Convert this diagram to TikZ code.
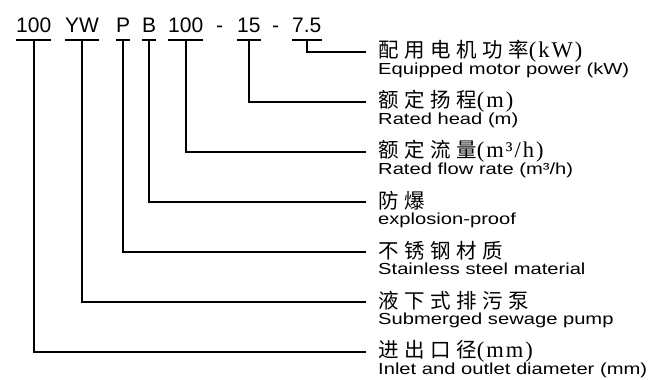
\documentclass[tikz,border=0pt]{standalone}
\usepackage{fontspec}
\setmainfont{Liberation Sans}
\newfontfamily\cjk[LetterSpace=27]{Noto Sans CJK SC}
\newfontfamily\zhunit[LetterSpace=9]{Liberation Serif}
\newfontfamily\enwide[FakeStretch=1.26]{Liberation Sans}
\usetikzlibrary{positioning}

\begin{document}
\begin{tikzpicture}[x=1pt,y=-1pt,
    code/.style={inner sep=0pt,anchor=base west,font=\fontsize{21}{21}\selectfont},
    zh/.style={inner sep=0pt,anchor=west,font=\cjk\fontsize{20.5}{21}\selectfont},
    en/.style={inner sep=0pt,anchor=base west,font=\enwide\fontsize{16}{16}\selectfont},
    lead/.style={line width=1.8pt}]
            \useasboundingbox (0,0) rectangle (653,380);
            % model code
            \node[code] (c1) at (16,32) {100};
            \node[code] (c2) at (65,32) {YW};
            \node[code] (c3) at (116,32) {P};
            \node[code] (c4) at (142,32) {B};
            \node[code] (c5) at (168,32) {100};
            \node[code] (d1) at (216,32) {-};
            \node[code] (c6) at (237,32) {15};
            \node[code] (d2) at (272,32) {-};
            \node[code] (c7) at (292,32) {7.5};
            \draw[lead] ([yshift=-8pt]c1.base west)--([yshift=-8pt]c1.base east);
            \draw[lead] ([yshift=-8pt]c2.base west)--([yshift=-8pt]c2.base east);
            \draw[lead] ([yshift=-8pt]c3.base west)--([yshift=-8pt]c3.base east);
            \draw[lead] ([yshift=-8pt]c4.base west)--([yshift=-8pt]c4.base east);
            \draw[lead] ([yshift=-8pt]c5.base west)--([yshift=-8pt]c5.base east);
            \draw[lead] ([yshift=-8pt]c6.base west)--([yshift=-8pt]c6.base east);
            \draw[lead] ([yshift=-8pt]c7.base west)--([yshift=-8pt]c7.base east);
            % labels
            \node[zh] (z7) at (378,51) {配用电机功率{\zhunit\fontsize{22.5}{22}\selectfont(kW)}};
            \node[en] (e7) at (378,74) {Equipped motor power (kW)};
            \node[zh] (z6) at (378,101) {额定扬程{\zhunit\fontsize{22.5}{22}\selectfont(m)}};
            \node[en] (e6) at (378,124) {Rated head (m)};
            \node[zh] (z5) at (378,151) {额定流量{\zhunit\fontsize{22.5}{22}\selectfont(m³/h)}};
            \node[en] (e5) at (378,174) {Rated flow rate (m³/h)};
            \node[zh] (z4) at (378,201) {防爆};
            \node[en] (e4) at (378,224) {explosion-proof};
            \node[zh] (z3) at (378,251) {不锈钢材质};
            \node[en] (e3) at (378,274) {Stainless steel material};
            \node[zh] (z2) at (378,301) {液下式排污泵};
            \node[en] (e2) at (378,324) {Submerged sewage pump};
            \node[zh] (z1) at (378,351) {进出口径{\zhunit\fontsize{22.5}{22}\selectfont(mm)}};
            \node[en] (e1) at (378,374) {Inlet and outlet diameter (mm)};
            % leaders
            \draw[lead] ([yshift=-8pt]c7.base)|-([xshift=-12pt,yshift=-1pt]z7.west);
            \draw[lead] ([yshift=-8pt]c6.base)|-([xshift=-12pt,yshift=-1pt]z6.west);
            \draw[lead] ([yshift=-8pt]c5.base)|-([xshift=-12pt,yshift=-1pt]z5.west);
            \draw[lead] ([yshift=-8pt]c4.base)|-([xshift=-12pt,yshift=-1pt]z4.west);
            \draw[lead] ([yshift=-8pt]c3.base)|-([xshift=-12pt,yshift=-1pt]z3.west);
            \draw[lead] ([yshift=-8pt]c2.base)|-([xshift=-12pt,yshift=-1pt]z2.west);
            \draw[lead] ([yshift=-8pt]c1.base)|-([xshift=-12pt,yshift=-1pt]z1.west);
        \end{tikzpicture}
\end{document}
